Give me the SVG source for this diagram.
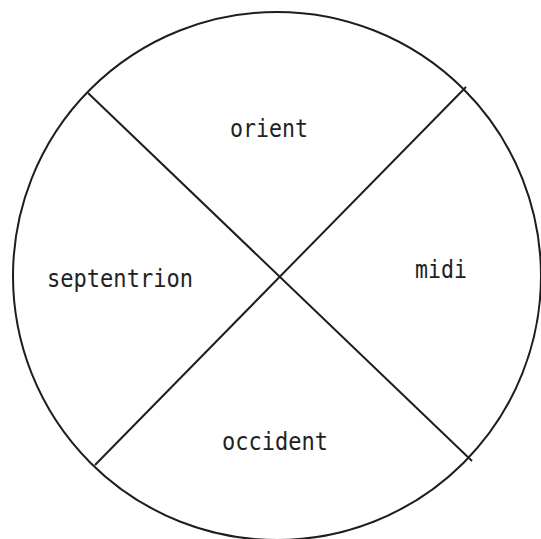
<svg xmlns="http://www.w3.org/2000/svg" width="541" height="539" viewBox="0 0 541 539">
<style>
.l{stroke:#1e1e1e;stroke-width:2;fill:none}
.t{font-family:"DejaVu Sans Mono","Liberation Mono",monospace;font-size:24px;fill:#222;text-anchor:middle;lengthAdjust:spacingAndGlyphs}
</style>
<rect width="541" height="539" fill="#fff"/>
<g id="connectors">
<circle class="l" cx="277" cy="276" r="264"/>
<line class="l" x1="88" y1="93" x2="472" y2="461"/>
<line class="l" x1="466" y1="87" x2="95" y2="465"/>
</g>
<g id="orient"><text class="t" x="269" y="137" textLength="78" lengthAdjust="spacingAndGlyphs">orient</text></g>
<g id="septentrion"><text class="t" x="120" y="287" textLength="146" lengthAdjust="spacingAndGlyphs">septentrion</text></g>
<g id="midi"><text class="t" x="441" y="278" textLength="52" lengthAdjust="spacingAndGlyphs">midi</text></g>
<g id="occident"><text class="t" x="275" y="450" textLength="106" lengthAdjust="spacingAndGlyphs">occident</text></g>
</svg>
